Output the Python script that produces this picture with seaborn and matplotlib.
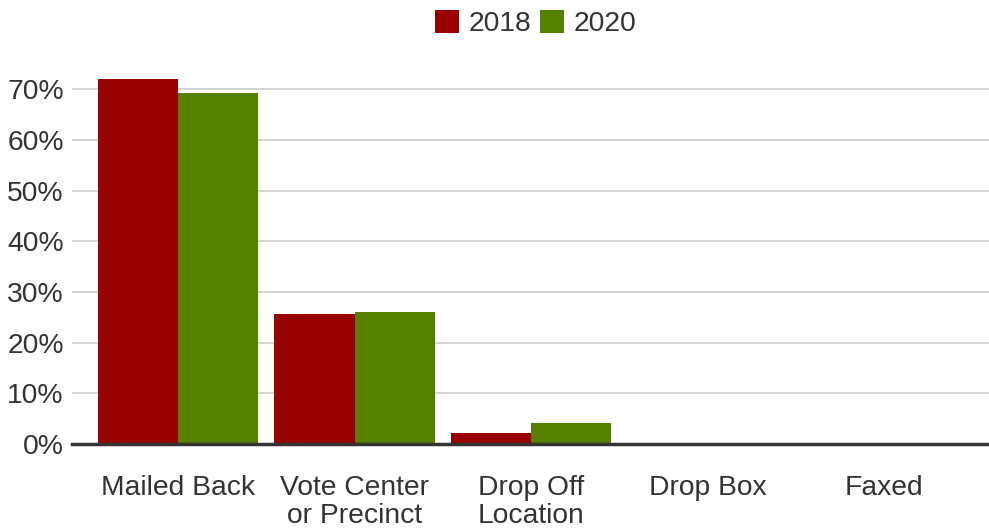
import pandas as pd
import matplotlib
matplotlib.use('Agg')
import matplotlib.pyplot as plt
import seaborn as sns
from matplotlib.ticker import FuncFormatter

categories = ["Mailed Back", "Vote Center\nor Precinct", "Drop Off\nLocation", "Drop Box", "Faxed"]
share_2018 = [72.1, 25.7, 2.2, 0.0, 0.0]
share_2020 = [69.3, 26.1, 4.2, 0.0, 0.0]
years = ["2018", "2020"]
colors = ["#990000", "#558000"]

df = pd.DataFrame({
    "method": categories * 2,
    "year": [years[0]] * len(categories) + [years[1]] * len(categories),
    "share": share_2018 + share_2020,
})

sns.set_theme(style="white")
plt.rcParams['font.family'] = ['Liberation Sans', 'DejaVu Sans']

fig = plt.figure(figsize=(9.89, 5.31), dpi=100)
ax = fig.add_axes([72 / 989, 87 / 531, 917 / 989, (444 - 60) / 531])

sns.barplot(data=df, x="method", y="share", hue="year", palette=colors,
            width=0.91, saturation=1, linewidth=0, ax=ax, legend=True)

ax.set_xlim(-0.602, 4.596)
ax.set_ylim(0, 75.8)
ax.set_yticks(range(0, 80, 10))
ax.yaxis.set_major_formatter(FuncFormatter(lambda v, p: f"{v:.0f}%"))
ax.grid(axis="y", color="#cccccc", linewidth=1.2)
ax.set_axisbelow(True)
for s in ["top", "right", "left"]:
    ax.spines[s].set_visible(False)
ax.spines["bottom"].set_color("#333333")
ax.spines["bottom"].set_linewidth(2.5)
ax.set_xlabel("")
ax.set_ylabel("")
ax.tick_params(axis="y", length=0, pad=6, labelsize=20.3, labelcolor="#333333")
ax.tick_params(axis="x", length=0, pad=22, labelsize=20.3, labelcolor="#333333")
for lbl in ax.get_xticklabels():
    lbl.set_linespacing(1.12)

ax.legend(loc="upper center", bbox_to_anchor=(0.5 + 5 / 917, 1.195), ncol=2, frameon=False,
          fontsize=20.3, handlelength=0.85, handleheight=0.85, handletextpad=0.35,
          columnspacing=0.3, labelcolor="#333333")

fig.savefig("out.png", dpi=100)
plt.close(fig)
